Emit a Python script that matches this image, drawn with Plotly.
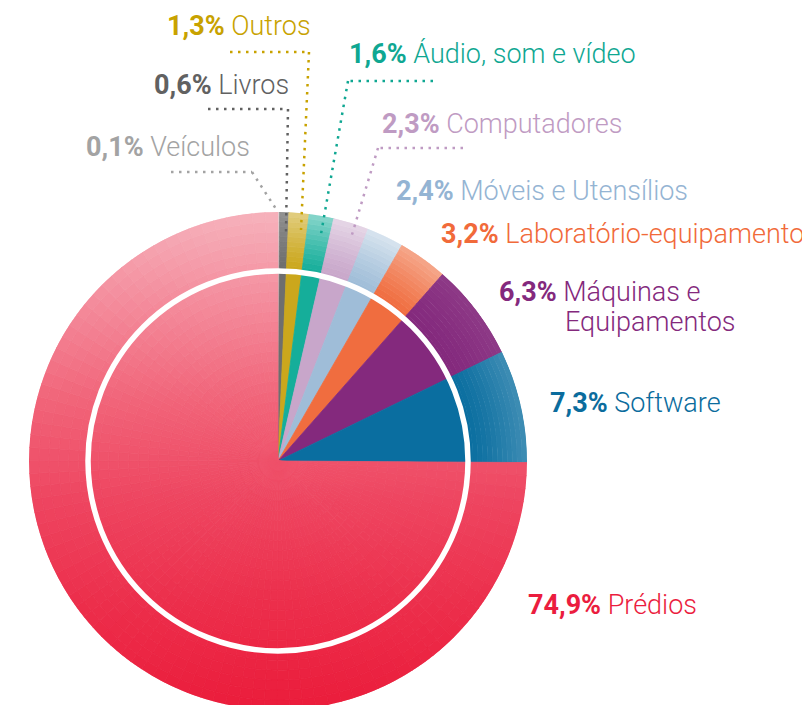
import math
import plotly.graph_objects as go
from plotly.colors import sample_colorscale, hex_to_rgb

# ---------------- data ----------------
categories = ["Veículos", "Livros", "Outros", "Áudio, som e vídeo", "Computadores",
              "Móveis e Utensílios", "Laboratório-equipamento", "Máquinas e Equipamentos",
              "Software", "Prédios"]
values = [0.1, 0.6, 1.3, 1.6, 2.3, 2.4, 3.2, 6.3, 7.3, 74.9]
pct_labels = ["0,1%", "0,6%", "1,3%", "1,6%", "2,3%", "2,4%", "3,2%", "6,3%", "7,3%", "74,9%"]

# ---------------- style ----------------
W, H = 810, 705
OFF = 8                                   # page body margin compensation
CX, CY, RPX = 278 - OFF, 461 - OFF, 249   # pie centre / radius in figure pixels
RING = 190 / RPX                          # white ring radius (fraction of radius)
FS = 27

slice_colors = ["#cfcfcf", "#6e6e6e", "#cba71c", "#15ae9a", "#c8a6ca",
                "#9fbdd8", "#f06d3f", "#84297d", "#0a6ea0", None]
outer_light = [0.3, 0.25, 0.45, 0.5, 0.55, 0.6, 0.4, 0.08, 0.22, 0]
label_colors = ["#a3a3a3", "#616161", "#c8a200", "#0fa792", "#bf9bc3",
                "#94b4d3", "#f16a3a", "#84297d", "#0b6c9d", "#eb1d3e"]
predios_scale = [[0, "#f6b2bc"], [0.18, "#f48c9c"], [0.38, "#f16479"],
                 [0.58, "#ee4560"], [0.79, "#ec2e4b"], [1, "#eb1c3b"]]


def blend(hexc, f):
    r, g, b = hex_to_rgb(hexc)
    return "rgb(%d,%d,%d)" % (r + (255 - r) * f, g + (255 - g) * f, b + (255 - b) * f)


th, wd, rr, bs, cols = [], [], [], [], []
cum = 0.0
total = sum(values)
for i, v in enumerate(values):
    start = cum / total * 360
    width = v / total * 360
    cum += v
    if slice_colors[i] is not None:
        th.append(start + width / 2); wd.append(width); rr.append(RING); bs.append(0)
        cols.append(blend(slice_colors[i], 0))
        nb = 12
        for k in range(nb):
            r0 = RING + (1 - RING) * k / nb
            r1 = RING + (1 - RING) * (k + 1) / nb
            f = outer_light[i] * ((k + 0.5) / nb) ** 1.3
            th.append(start + width / 2); wd.append(width); rr.append(r1 - r0); bs.append(r0)
            cols.append(blend(slice_colors[i], f))
    else:
        na, nr = 90, 25
        for a in range(na):
            aw = width / na
            ac = start + aw * a + aw / 2
            for k in range(nr):
                r0 = k / nr
                r1 = (k + 1) / nr
                rc = (r0 + r1) / 2
                t = (1 - rc * math.cos(math.radians(ac))) / 2
                t = min(max(t, 0), 1)
                th.append(ac); wd.append(aw); rr.append(r1 - r0); bs.append(r0)
                cols.append(sample_colorscale(predios_scale, [t])[0])

fig = go.Figure()
fig.add_trace(go.Barpolar(
    theta=th, width=wd, r=rr, base=bs,
    marker=dict(color=cols, line=dict(color=cols, width=0.8)),
    hoverinfo="skip", showlegend=False,
))


def px(x):
    return (x - OFF) / W


def py(y):
    return 1 - (y - OFF) / H


shapes = []
# white ring (screen coordinates)
SCX, SCY, RR = 278, 461, 190
shapes.append(dict(type="circle", xref="paper", yref="paper",
                   x0=px(SCX - RR), x1=px(SCX + RR),
                   y0=py(SCY + RR), y1=py(SCY - RR),
                   line=dict(color="white", width=5.5), layer="above"))

leaders = {
    0: [(171, 172), (252, 172), (278, 212)],
    1: [(208, 109), (288, 109), (286, 232)],
    2: [(230, 52), (309, 52), (301, 230)],
    3: [(433, 81), (348, 81), (321, 234)],
    4: [(463, 148), (378, 148), (351, 238)],
}
for i, pts in leaders.items():
    for (x0, y0), (x1, y1) in zip(pts[:-1], pts[1:]):
        shapes.append(dict(type="line", xref="paper", yref="paper",
                           x0=px(x0), y0=py(y0), x1=px(x1), y1=py(y1),
                           line=dict(color=label_colors[i], width=2.5, dash="2.5px,5.5px"),
                           layer="above"))

label_pos = {
    0: (84, 147), 1: (152, 85), 2: (165, 26), 3: (347, 54), 4: (380, 124),
    5: (394, 191), 6: (439, 234), 7: (497, 292), 8: (548, 403), 9: (526, 605),
}
annotations = []
for i, (x, y) in label_pos.items():
    name = categories[i]
    if i == 7:
        name = "Máquinas e"
    annotations.append(dict(x=px(x), y=py(y), xref="paper", yref="paper",
                            xanchor="left", yanchor="middle", showarrow=False,
                            text="<b>%s</b> %s" % (pct_labels[i], name),
                            font=dict(family="Roboto", size=FS, color=label_colors[i], weight=300)))
annotations.append(dict(x=px(563), y=py(322), xref="paper", yref="paper",
                        xanchor="left", yanchor="middle", showarrow=False,
                        text="Equipamentos",
                        font=dict(family="Roboto", size=FS, color=label_colors[7], weight=300)))

fig.update_layout(
    width=W, height=H,
    margin=dict(l=0, r=0, t=0, b=0),
    paper_bgcolor="white", plot_bgcolor="white",
    polar=dict(
        domain=dict(x=[(CX - RPX) / W, (CX + RPX) / W],
                    y=[1 - (CY + RPX) / H, 1 - (CY - RPX) / H]),
        bgcolor="rgba(0,0,0,0)", hole=0, barmode="overlay",
        angularaxis=dict(rotation=90, direction="clockwise", visible=False, showgrid=False),
        radialaxis=dict(range=[0, 1], visible=False, showgrid=False),
    ),
    shapes=shapes,
    annotations=annotations,
    showlegend=False,
)

fig.write_html("out.html")
